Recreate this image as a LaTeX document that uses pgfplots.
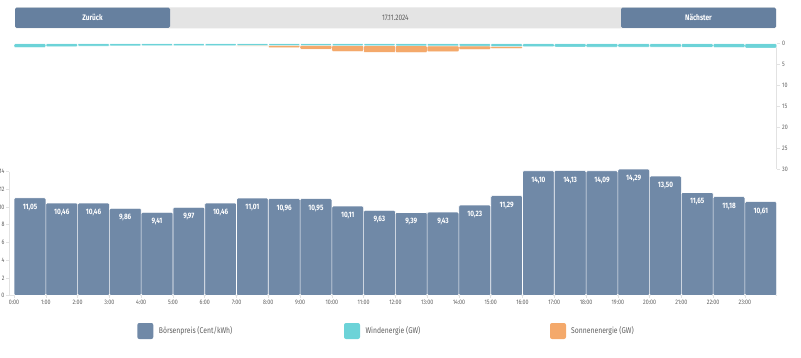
\documentclass[border=0pt]{standalone}
\usepackage{fontspec}
\setmainfont{Fira Sans}[FakeStretch=0.82]
\usepackage{pgfplots}
\usepackage{pgfplotstable}
\pgfplotsset{compat=1.18}
\definecolor{pricecol}{HTML}{7089A7}
\definecolor{btncol}{HTML}{66809F}
\definecolor{windcol}{HTML}{6CD3D8}
\definecolor{solarcol}{HTML}{F4A96B}
\definecolor{hdrgray}{HTML}{E4E4E4}
\definecolor{txtgray}{HTML}{5E5E5E}
\definecolor{axgray}{HTML}{E2E2E2}

\pgfplotstableread{
h price wind solar
0.5 11.05 0.85 0
1.5 10.46 0.65 0
2.5 10.46 0.55 0
3.5 9.86 0.50 0
4.5 9.41 0.45 0
5.5 9.97 0.43 0
6.5 10.46 0.43 0
7.5 11.01 0.40 0.18
8.5 10.96 0.40 0.50
9.5 10.95 0.40 0.90
10.5 10.11 0.42 1.38
11.5 9.63 0.45 1.60
12.5 9.39 0.48 1.60
13.5 9.43 0.50 1.38
14.5 10.23 0.55 0.80
15.5 11.29 0.60 0.56
16.5 14.10 0.70 0
17.5 14.13 0.75 0
18.5 14.09 0.78 0
19.5 14.29 0.80 0
20.5 13.50 0.80 0
21.5 11.65 0.82 0
22.5 11.18 0.85 0
23.5 10.61 1.00 0
}\data

\begin{document}
\begin{tikzpicture}[x=1pt,y=1pt]
\path[use as bounding box] (0,0) rectangle (801,-358);
% header
\fill[hdrgray, rounded corners=1.5pt] (15,-7.3) rectangle (776,-28.3);
\fill[btncol, rounded corners=1.5pt] (15,-7.6) rectangle (170,-28);
\fill[btncol, rounded corners=1.5pt] (621,-7.6) rectangle (776,-28);
\node[text=white, font=\bfseries\fontsize{8}{9}\selectfont] at (92.5,-17.8) {Zurück};
\node[text=white, font=\bfseries\fontsize{8}{9}\selectfont] at (698.5,-17.8) {Nächster};
\node[text=txtgray, font=\fontsize{8}{9}\selectfont] at (395.4,-17.8) {17.11.2024};

% top chart: wind & solar
\begin{axis}[
  at={(9pt,-43.8pt)}, anchor=north west, scale only axis,
  width=767.7pt, height=125.3pt,
  xmin=-0.16, xmax=24, ymin=0, ymax=30, y dir=reverse,
  ybar stacked, bar width=1,
  axis x line=none, axis y line*=right,
  axis line style={axgray, line width=0.8pt},
  ytick={0,5,...,30},
  tick style={axgray, line width=0.6pt}, major tick length=3pt, tick align=outside,
  yticklabel style={text=txtgray, font=\fontsize{6.5}{7}\selectfont, xshift=-1pt},
  /pgf/number format/assume math mode=true,
  clip=false,
]
\addplot[fill=windcol, draw=white, line width=0.3pt, rounded corners=1pt] table[x=h, y=wind] {\data};
\addplot[fill=solarcol, draw=white, line width=0.3pt, rounded corners=1pt] table[x=h, y=solar] {\data};
\end{axis}

% bottom chart: price
\begin{axis}[
  at={(9pt,-295.5pt)}, anchor=south west, scale only axis,
  width=767.7pt, height=123.8pt,
  xmin=-0.16, xmax=24, ymin=0, ymax=14,
  ybar, bar width=1,
  axis x line*=bottom, axis y line*=left,
  axis line style={axgray, line width=0.8pt},
  xtick={0,...,23},
  xticklabels={0:00,1:00,2:00,3:00,4:00,5:00,6:00,7:00,8:00,9:00,10:00,11:00,12:00,13:00,14:00,15:00,16:00,17:00,18:00,19:00,20:00,21:00,22:00,23:00},
  ytick={0,2,...,14},
  tick style={axgray, line width=0.6pt}, major tick length=2.5pt, tick align=outside,
  xticklabel style={text=txtgray, font=\fontsize{6.5}{7}\selectfont, yshift=1pt},
  yticklabel style={text=txtgray, font=\fontsize{6.5}{7}\selectfont, xshift=1.5pt},
  /pgf/number format/assume math mode=true,
  nodes near coords={\pgfmathprintnumber[fixed,fixed zerofill,precision=2,use comma]{\pgfplotspointmeta}},
  every node near coord/.append style={anchor=north, yshift=-2.5pt, text=white, font=\bfseries\fontsize{7.8}{8}\selectfont},
  clip=false,
]
\addplot[fill=pricecol, draw=white, line width=0.6pt, rounded corners=1.2pt] table[x=h, y=price] {\data};
\end{axis}

% legend
\fill[pricecol, rounded corners=2pt] (137.3,-323) rectangle (153.3,-339);
\node[anchor=west, text=txtgray, font=\fontsize{8.3}{9}\selectfont, inner sep=0pt] at (158.7,-331) {Börsenpreis (Cent/kWh)};
\fill[windcol, rounded corners=2pt] (344,-323) rectangle (360,-339);
\node[anchor=west, text=txtgray, font=\fontsize{8.3}{9}\selectfont, inner sep=0pt] at (365.4,-331) {Windenergie (GW)};
\fill[solarcol, rounded corners=2pt] (550,-323) rectangle (566,-339);
\node[anchor=west, text=txtgray, font=\fontsize{8.3}{9}\selectfont, inner sep=0pt] at (571,-331) {Sonnenenergie (GW)};
\end{tikzpicture}
\end{document}
